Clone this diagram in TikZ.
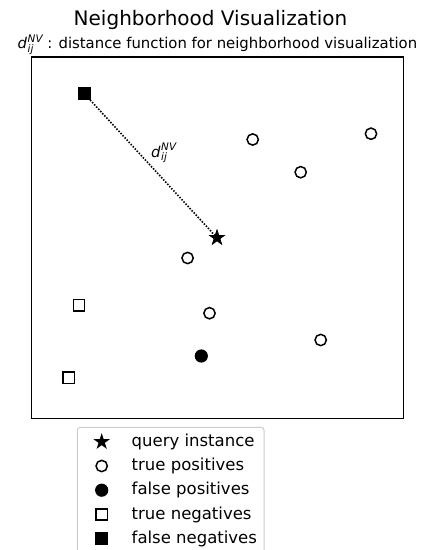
\documentclass[tikz,border=0pt]{standalone}
\usepackage{fontspec}
\setmainfont{DejaVu Sans}
\usetikzlibrary{shapes.geometric}
\newcommand{\scr}{\fontsize{10.4}{12}\selectfont}
\newcommand{\dnvlabel}{{\itshape d\kern0.6pt\rlap{\raisebox{6.5pt}{\scr NV}}\rlap{\raisebox{-3.5pt}{\scr ij}}\hphantom{\scr NV}}}
\begin{document}
\begin{tikzpicture}[x=1pt,y=-1pt,
  tpos/.style={circle, draw=black, line width=1.5pt, fill=white, minimum size=11.3pt, inner sep=0pt},
  fpos/.style={circle, fill=black, minimum size=13.2pt, inner sep=0pt},
  tneg/.style={rectangle, draw=black, line width=1.5pt, fill=white, minimum size=11.2pt, inner sep=0pt},
  fneg/.style={rectangle, fill=black, minimum size=13pt, inner sep=0pt},
  query/.style={star, star points=5, star point ratio=2.618, fill=black, minimum size=17.4pt, inner sep=0pt},
  legtext/.style={anchor=base west, inner sep=0pt, font=\fontsize{16.5}{19}\selectfont},
  dist/.style={line width=1.6pt, dash pattern=on 1.5pt off 1.5pt}
]
\useasboundingbox (0,0) rectangle (422,550);
\clip (0,0) rectangle (422,550);
\fill[white] (0,0) rectangle (422,550);
% titles
\node[anchor=base, inner sep=0pt, font=\fontsize{20}{24}\selectfont] (title) at (210.5,25) {Neighborhood Visualization};
\node[anchor=base west, inner sep=0pt, font=\fontsize{14.85}{17}\selectfont] (subtitle) at (17.5,48.5) {\dnvlabel\ : distance function for neighborhood visualization};
% axes frame
\draw[line width=1.3pt] (31.5,57) rectangle (403.5,418.5);
% points
\node[fneg] (fn1) at (84,93.3) {};
\node[query] (q) at (217,237.8) {};
\draw[dist] (fn1.center) -- (q.center);
\node[fneg] at (fn1) {};
\node[query] at (q) {};
\node[anchor=base west, inner sep=0pt, font=\fontsize{14.85}{17}\selectfont] (dlabel) at (151,157.3) {\dnvlabel};
\node[tpos] (tp1) at (187.6,258) {};
\node[tpos] (tp2) at (252.7,139.5) {};
\node[tpos] (tp3) at (300.7,172.2) {};
\node[tpos] (tp4) at (371,133.7) {};
\node[tpos] (tp5) at (209.5,313.2) {};
\node[tpos] (tp6) at (320.7,340) {};
\node[fpos] (fp1) at (201.3,356) {};
\node[tneg] (tn1) at (79,305.3) {};
\node[tneg] (tn2) at (68.7,377.7) {};
% legend
\draw[draw=black!20, line width=1pt, rounded corners=3pt, fill=white] (77.3,427.3) rectangle (264,575);
\node[query] (lq) at (101.7,441.8) {};
\node[legtext] (lqt) at (131.5,446.4) {query instance};
\node[tpos] (ltp) at (101.7,466) {};
\node[legtext] (ltpt) at (131.5,470.6) {true positives};
\node[fpos] (lfp) at (101.7,490.2) {};
\node[legtext] (lfpt) at (131.5,494.8) {false positives};
\node[tneg] (ltn) at (101.7,514.4) {};
\node[legtext] (ltnt) at (131.5,519) {true negatives};
\node[fneg] (lfn) at (101.7,538.6) {};
\node[legtext] (lfnt) at (131.5,543.2) {false negatives};
\end{tikzpicture}
\end{document}
